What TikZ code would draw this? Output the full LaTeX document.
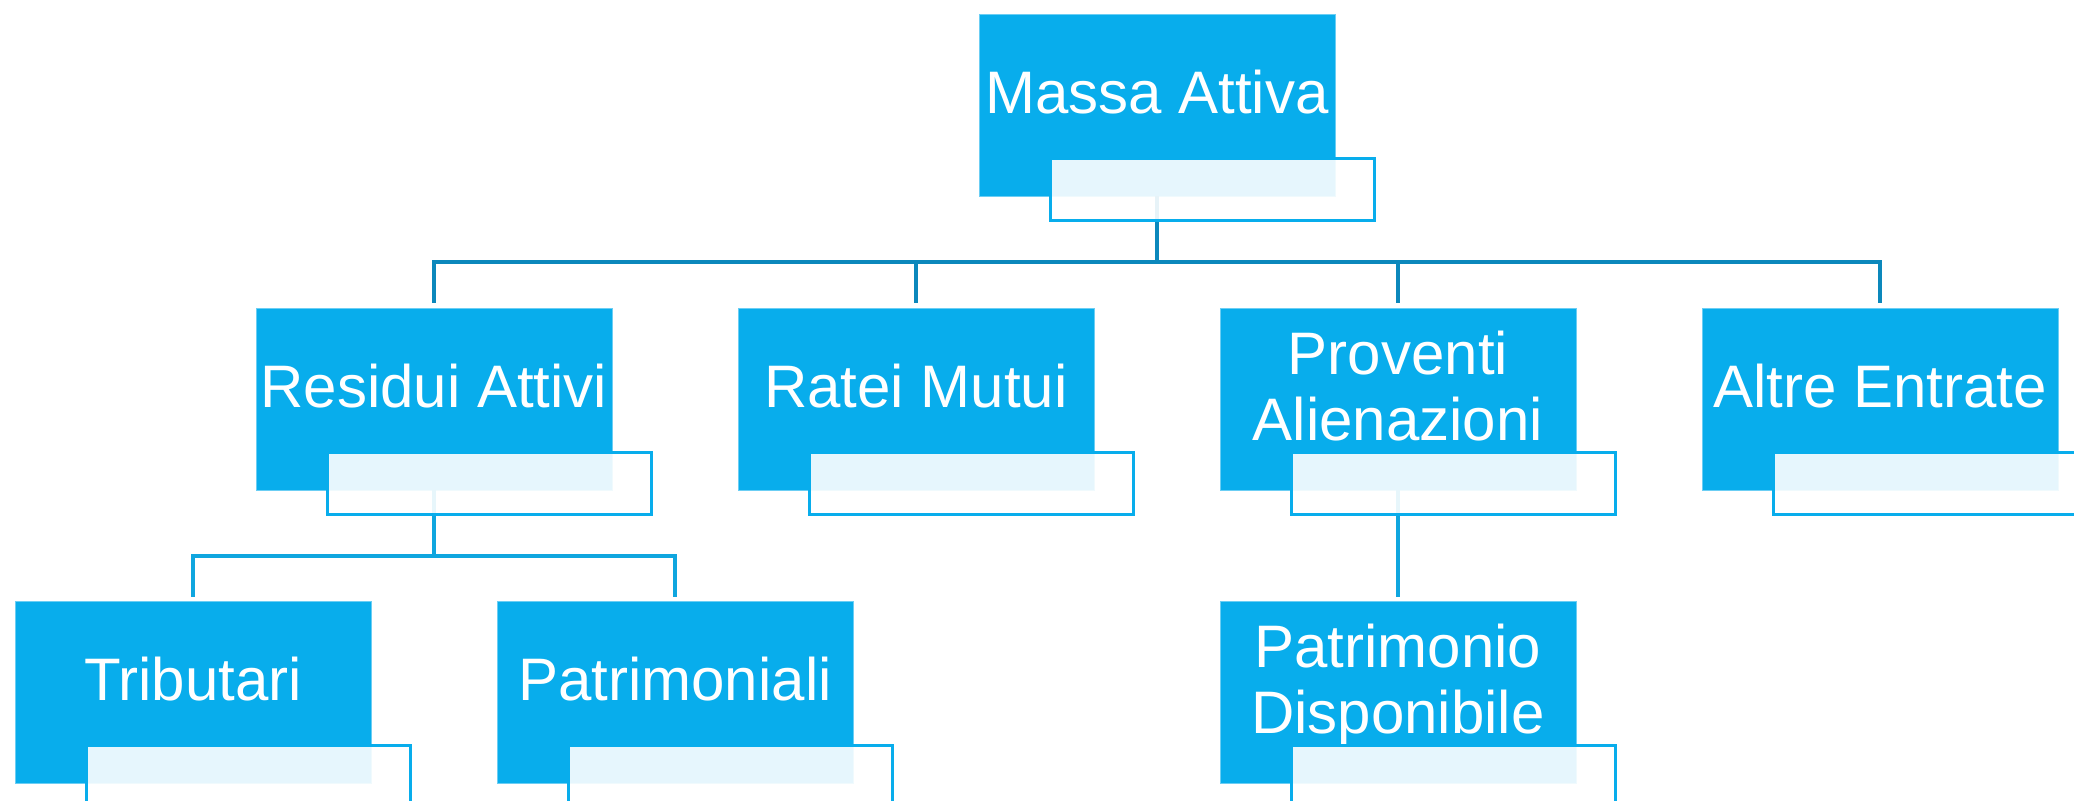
\documentclass[tikz,border=0pt]{standalone}
\usepackage{fontspec}
\setmainfont{Liberation Sans}
\definecolor{boxblue}{HTML}{08ADEC}
\definecolor{trunkblue}{HTML}{0C88BC}
\definecolor{branchblue}{HTML}{0FA6DF}
\tikzstyle{mainbox} = [rectangle, anchor=north west, minimum width=178pt, minimum height=91pt, inner sep=0pt, outer sep=0pt, fill=boxblue, draw=boxblue!60!white, line width=.4pt]
\tikzstyle{subbox} = [rectangle, anchor=north west, minimum width=162pt, minimum height=31pt, inner sep=0pt, fill=white, fill opacity=.9, draw=boxblue, draw opacity=1, line width=1.5pt]
\tikzstyle{boxtext} = [anchor=base, inner sep=0pt, text=white, font=\fontsize{30}{33}\selectfont]
\tikzstyle{trunk} = [draw=trunkblue, line width=1.7pt]
\tikzstyle{branch} = [draw=branchblue, line width=1.6pt]
\newcommand{\twolines}[2]{\begin{tabular}[t]{@{}c@{}}#1\\#2\end{tabular}}

\begin{document}
\begin{tikzpicture}[x=.5pt, y=-.5pt]
			\useasboundingbox (0,0) rectangle (2074,801);
			% boxes
			\node [mainbox] (mas) at (979,14) {};
			\node [mainbox] (res) at (256,308) {};
			\node [mainbox] (rat) at (738,308) {};
			\node [mainbox] (pro) at (1220,308) {};
			\node [mainbox] (alt) at (1702,308) {};
			\node [mainbox] (tri) at (15,601) {};
			\node [mainbox] (pat) at (497,601) {};
			\node [mainbox] (dis) at (1220,601) {};
			% texts
			\node [boxtext] (mas-t) at ([yshift=-50pt]mas.north) {Massa Attiva};
			\node [boxtext] (res-t) at ([yshift=-50pt]res.north) {Residui Attivi};
			\node [boxtext] (rat-t) at ([yshift=-50pt]rat.north) {Ratei Mutui};
			\node [boxtext] (pro-t) at ([yshift=-33.5pt]pro.north) {\twolines{Proventi}{Alienazioni}};
			\node [boxtext] (alt-t) at ([yshift=-50pt]alt.north) {Altre Entrate};
			\node [boxtext] (tri-t) at ([yshift=-50pt]tri.north) {Tributari};
			\node [boxtext] (pat-t) at ([yshift=-50pt]pat.north) {Patrimoniali};
			\node [boxtext] (dis-t) at ([yshift=-33.5pt]dis.north) {\twolines{Patrimonio}{Disponibile}};
			% connectors
			\foreach \c in {res,rat,pro,alt}
				\draw [trunk, shorten >=2.5pt] (mas.south) -- ++(0,-33pt) -| (\c.north);
			\foreach \c in {tri,pat}
				\draw [branch, shorten >=2pt] (res.south) -- ++(0,-33pt) -| (\c.north);
			\draw [branch, shorten >=2pt] (pro.south) -- (dis.north);
			% lower frames
			\foreach \n in {mas,res,rat,pro,alt,tri,pat,dis}
				\node [subbox] (\n-s) at ([xshift=35pt, yshift=-71.5pt]\n.north west) {};
		\end{tikzpicture}
\end{document}
